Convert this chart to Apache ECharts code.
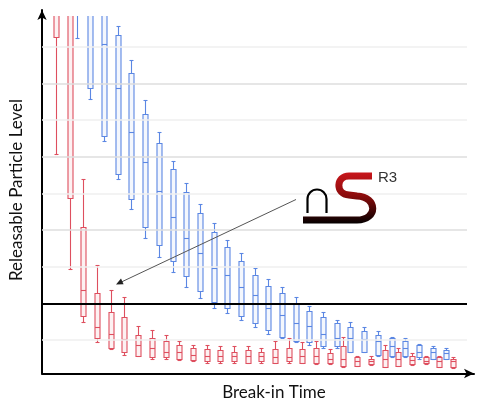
<!DOCTYPE html>
<html>
<head>
<meta charset="utf-8">
<script src="https://cdn.jsdelivr.net/npm/echarts@6/dist/echarts.min.js"></script>
<style>
html,body{margin:0;padding:0;background:#fff;}
#chart{width:479px;height:404px;}
</style>
</head>
<body>
<div id="chart"></div>
<script>
// x positions (break-in steps)
var breakIn = [1,2,3,4,5,6,7,8,9,10,11,12,13,14,15,16,17,18,19,20,21,22,23,24,25,26,27,28,29,30];

// [low, Q1, median, Q3, high] — values above ~9.8 lie outside the visible area
var redBoxes = [
  [6.05, 9.26, 10.0, 10.5, 11.0],
  [2.91, 4.87, 10.0, 10.5, 11.0],
  [1.49, 1.63, 2.34, 4.06, 5.39],
  [0.92, 1.03, 1.33, 2.28, 3.02],
  [0.73, 0.78, 1.14, 1.76, 2.36],
  [0.59, 0.65, 1.00, 1.60, 2.15],
  [0.54, 0.56, 0.86, 1.11, 1.38],
  [0.48, 0.51, 0.78, 1.03, 1.25],
  [0.46, 0.51, 0.67, 0.95, 1.11],
  [0.43, 0.46, 0.67, 0.84, 0.95],
  [0.40, 0.43, 0.59, 0.76, 0.86],
  [0.37, 0.40, 0.56, 0.73, 0.84],
  [0.37, 0.40, 0.54, 0.70, 0.81],
  [0.37, 0.40, 0.54, 0.67, 0.81],
  [0.35, 0.37, 0.54, 0.70, 0.81],
  [0.37, 0.40, 0.54, 0.67, 0.78],
  [0.35, 0.37, 0.51, 0.73, 0.95],
  [0.37, 0.40, 0.51, 0.78, 1.05],
  [0.35, 0.37, 0.56, 0.73, 0.92],
  [0.32, 0.35, 0.54, 0.76, 0.95],
  [0.32, 0.35, 0.48, 0.62, 0.73],
  [0.26, 0.29, 0.46, 0.81, 1.08],
  [0.28, 0.29, 0.40, 0.51, 0.54],
  [0.30, 0.32, 0.40, 0.48, 0.54],
  [0.24, 0.26, 0.46, 0.70, 0.84],
  [0.27, 0.29, 0.46, 0.65, 0.78],
  [0.30, 0.32, 0.43, 0.54, 0.62],
  [0.33, 0.35, 0.40, 0.51, 0.56],
  [0.25, 0.26, 0.40, 0.51, 0.54],
  [0.23, 0.24, 0.40, 0.48, 0.51]
];

var blueBoxes = [
  null,
  [9.23, 10.0, 10.3, 10.6, 11.0],
  [7.57, 7.87, 10.0, 10.4, 10.8],
  [6.40, 6.54, 9.07, 10.2, 10.6],
  [5.39, 5.50, 7.85, 9.29, 9.54],
  [4.57, 4.82, 6.65, 8.28, 8.61],
  [3.78, 4.06, 5.85, 7.16, 7.52],
  [3.24, 3.59, 5.04, 6.35, 6.65],
  [2.85, 3.13, 4.33, 5.64, 5.88],
  [2.42, 2.72, 3.78, 5.01, 5.28],
  [2.12, 2.31, 3.35, 4.44, 4.70],
  [1.85, 2.01, 2.94, 3.92, 4.19],
  [1.71, 1.85, 2.77, 3.51, 3.70],
  [1.52, 1.63, 2.42, 3.13, 3.35],
  [1.33, 1.44, 2.20, 2.77, 2.96],
  [1.14, 1.25, 1.87, 2.47, 2.64],
  [1.03, 1.08, 1.68, 2.26, 2.42],
  [0.92, 0.97, 1.46, 1.98, 2.15],
  [0.86, 0.92, 1.38, 1.79, 1.90],
  [0.76, 0.81, 1.14, 1.60, 1.74],
  [0.78, 0.81, 1.05, 1.44, 1.54],
  [0.65, 0.67, 1.05, 1.35, 1.49],
  [0.65, 0.67, 1.00, 1.22, 1.33],
  [0.56, 0.59, 0.95, 1.11, 1.22],
  [0.51, 0.54, 0.81, 1.05, 1.08],
  [0.51, 0.54, 0.76, 0.97, 1.05],
  [0.48, 0.51, 0.67, 0.84, 0.89],
  [0.46, 0.48, 0.65, 0.76, 0.81],
  [0.46, 0.48, 0.62, 0.70, 0.76],
  null
];

var gridLevels = [1, 3, 4, 5, 6, 7, 8, 9];
var thresholdLevel = 2;

var yTitle = 'Releasable Particle Level';
var xTitle = 'Break-in Time';
var logoTag = 'R3';

function toData(boxes) {
  var out = [];
  for (var i = 0; i < breakIn.length; i++) {
    var b = boxes[i];
    if (!b) continue;
    out.push([breakIn[i], b[0], b[1], b[2], b[3], b[4]]);
  }
  return out;
}

function snap(v) { return Math.round(v - 0.5) + 0.5; }

function makeRender(color, fill, dx) {
  return function (params, api) {
    var j = api.value(0);
    var p = function (v) { return api.coord([j, v]); };
    var x = Math.round(p(api.value(1))[0] + dx) + 0.5;
    var yLo = snap(p(api.value(1))[1]), yQ1 = snap(p(api.value(2))[1]), yMd = snap(p(api.value(3))[1]),
        yQ3 = snap(p(api.value(4))[1]), yHi = snap(p(api.value(5))[1]);
    var bw = 5, cw = 4;
    function st() { return { stroke: color, lineWidth: 1.1, fill: null }; }
    function ln(x1, y1, x2, y2) { return { type: 'line', shape: { x1: x1, y1: y1, x2: x2, y2: y2 }, style: st() }; }
    return {
      type: 'group',
      children: [
        ln(x, yHi, x, yQ3),
        ln(x, yQ1, x, yLo),
        ln(x - cw / 2, yHi, x + cw / 2, yHi),
        ln(x - cw / 2, yLo, x + cw / 2, yLo),
        { type: 'rect', shape: { x: x - bw / 2, y: yQ3, width: bw, height: yQ1 - yQ3 },
          style: { stroke: color, fill: fill, lineWidth: 1.1 } },
        ln(x - bw / 2, yMd, x + bw / 2, yMd)
      ]
    };
  };
}

var markData = gridLevels.map(function (v) {
  return { yAxis: v, lineStyle: { color: (v % 2 === 0) ? '#dedede' : '#efefef', width: 1.5, type: 'solid' } };
});
markData.push({ yAxis: thresholdLevel, lineStyle: { color: '#000', width: 2, type: 'solid' } });

var chart = echarts.init(document.getElementById('chart'), null, { renderer: 'canvas' });

function renderLogo() {
  var grad = new echarts.graphic.LinearGradient(0, 0, 0, 1, [
    { offset: 0, color: '#c8161c' },
    { offset: 0.45, color: '#8c0c0c' },
    { offset: 1, color: '#050000' }
  ]);
  return {
    type: 'group',
    children: [
      { type: 'line', shape: { x1: 296, y1: 199.5, x2: 122, y2: 281.7 },
        style: { stroke: '#555', lineWidth: 1 } },
      { type: 'polygon', shape: { points: [[116, 284.5], [123.6, 284.3], [121.0, 278.6]] },
        style: { fill: '#222' } },
      { type: 'path', shape: { pathData: 'M307.5,213 L307.5,199 A9.5,9.5 0 0 1 326.5,199 L326.5,213' },
        style: { stroke: '#000', lineWidth: 2.2, fill: null } },
      { type: 'path',
        shape: { pathData: 'M372,176 L349,176 C336,176 335,194 349,195 L357,196 C378,197 378,220 357,220 L303,220' },
        style: { stroke: grad, lineWidth: 7, fill: null, lineJoin: 'round' } }
    ]
  };
}

chart.setOption({
  animation: false,
  backgroundColor: '#fff',
  grid: [
    { left: 42, right: 12, top: 16, bottom: 31 },
    { left: 42, right: 5, top: 10, bottom: 30.5 }
  ],
  xAxis: [
    { gridIndex: 0, type: 'value', min: -0.28, max: 30.77,
      axisLine: { show: false }, axisTick: { show: false }, axisLabel: { show: false }, splitLine: { show: false } },
    { gridIndex: 1, type: 'value', min: 0, max: 1,
      axisLine: { show: true, onZero: false, symbol: ['none', 'arrow'], symbolSize: [7, 10],
        lineStyle: { color: '#000', width: 2 } },
      axisTick: { show: false }, axisLabel: { show: false }, splitLine: { show: false } }
  ],
  yAxis: [
    { gridIndex: 0, type: 'value', min: 0.1, max: 9.835,
      axisLine: { show: false }, axisTick: { show: false }, axisLabel: { show: false }, splitLine: { show: false } },
    { gridIndex: 1, type: 'value', min: 0, max: 1,
      axisLine: { show: true, onZero: false, symbol: ['none', 'arrow'], symbolSize: [7, 10],
        lineStyle: { color: '#000', width: 2 } },
      axisTick: { show: false }, axisLabel: { show: false }, splitLine: { show: false } }
  ],
  series: [
    { type: 'line', xAxisIndex: 0, yAxisIndex: 0, data: [], silent: true, z: 1,
      markLine: { silent: true, symbol: ['none', 'none'], label: { show: false }, animation: false, data: markData } },
    { type: 'custom', name: 'red', xAxisIndex: 0, yAxisIndex: 0, clip: true, z: 3,
      renderItem: makeRender('#de4f5f', 'rgba(235,120,130,0.10)', -3.5),
      encode: { x: 0, y: [1, 2, 3, 4, 5] },
      data: toData(redBoxes) },
    { type: 'custom', name: 'blue', xAxisIndex: 0, yAxisIndex: 0, clip: true, z: 3,
      renderItem: makeRender('#5b87e3', 'rgba(120,155,235,0.08)', 3.5),
      encode: { x: 0, y: [1, 2, 3, 4, 5] },
      data: toData(blueBoxes) },
    { type: 'custom', name: 'logo', coordinateSystem: 'none', silent: true, z: 10,
      renderItem: renderLogo, data: [0] }
  ],
  graphic: [
    { type: 'text', x: 17, y: 190, rotation: Math.PI / 2,
      style: { text: yTitle, font: '17px Lato', fill: '#111', textAlign: 'center', textVerticalAlign: 'middle' } },
    { type: 'text', x: 274, y: 393,
      style: { text: xTitle, font: '17px Lato', fill: '#111', textAlign: 'center', textVerticalAlign: 'middle' } },
    { type: 'text', x: 378, y: 177.5, z: 10,
      style: { text: logoTag, font: '15px "Liberation Sans"', fill: '#333', textAlign: 'left', textVerticalAlign: 'middle' } }
  ]
});
</script>
</body>
</html>
